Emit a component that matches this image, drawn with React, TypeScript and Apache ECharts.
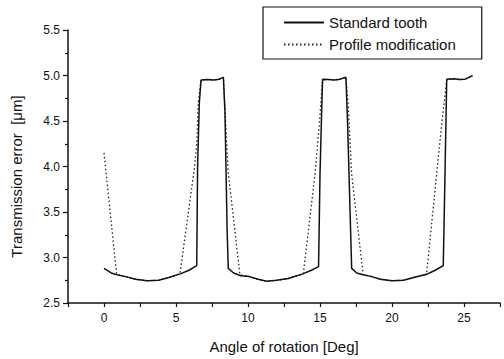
import React, { useEffect, useRef } from "react";
import * as echarts from "echarts";

const standardX = [0, 0.5, 0.9, 1.5, 2.2, 3.0, 3.8, 4.5, 5.3, 5.9, 6.44, 6.5, 6.62, 6.74, 7.2, 7.6, 8.0, 8.29, 8.4, 8.47, 8.55, 8.63, 9.0, 9.5, 10.1, 10.7, 11.3, 12.0, 12.8, 13.8, 14.4, 14.9, 15.0, 15.12, 15.18, 15.6, 16.0, 16.4, 16.8, 16.92, 17.08, 17.2, 17.55, 18.0, 18.6, 19.2, 20.0, 20.8, 21.5, 22.4, 23.0, 23.56, 23.68, 23.8, 24.3, 24.7, 25.07, 25.35, 25.6];
const standardY = [2.88, 2.83, 2.81, 2.79, 2.76, 2.745, 2.75, 2.78, 2.82, 2.86, 2.91, 4.0, 4.7, 4.95, 4.955, 4.95, 4.96, 4.98, 4.6, 4.0, 3.3, 2.88, 2.83, 2.8, 2.79, 2.76, 2.74, 2.75, 2.77, 2.82, 2.86, 2.9, 3.91, 4.64, 4.96, 4.955, 4.95, 4.96, 4.98, 4.46, 3.55, 2.88, 2.83, 2.81, 2.79, 2.76, 2.745, 2.75, 2.78, 2.815, 2.86, 2.91, 3.91, 4.96, 4.965, 4.955, 4.96, 4.98, 5.0];

const profileX = [0, 0.88, 1.5, 2.2, 3.0, 3.8, 4.5, 5.28, 6.25, 6.44, 6.55, 6.74, 7.2, 7.6, 8.0, 8.29, 8.4, 8.52, 8.63, 9.44, 10.1, 10.7, 11.3, 12.0, 12.8, 13.84, 14.65, 14.95, 15.18, 15.6, 16.0, 16.4, 16.8, 16.97, 17.2, 18.0, 18.6, 19.2, 20.0, 20.8, 21.5, 22.4, 22.98, 23.45, 23.8, 24.3, 24.7, 25.07, 25.35, 25.6];
const profileY = [4.15, 2.815, 2.79, 2.76, 2.745, 2.75, 2.78, 2.825, 3.95, 4.24, 4.71, 4.95, 4.955, 4.95, 4.96, 4.98, 4.64, 4.24, 3.93, 2.81, 2.79, 2.76, 2.74, 2.75, 2.77, 2.82, 3.91, 4.46, 4.95, 4.955, 4.95, 4.96, 4.98, 4.64, 3.91, 2.81, 2.79, 2.76, 2.745, 2.75, 2.78, 2.815, 3.73, 4.46, 4.95, 4.965, 4.955, 4.96, 4.98, 5.0];

const xLabels = [0, 5, 10, 15, 20, 25];
const seriesNames = ["Standard tooth", "Profile modification"];
const xTitle = "Angle of rotation [Deg]";
const yTitle = "Transmission error  [μm]";

const FONT = "'Liberation Sans', Arial, Helvetica, sans-serif";

export default function App() {
  const ref = useRef<HTMLDivElement>(null);
  useEffect(() => {
    if (!ref.current) return;
    const chart = echarts.init(ref.current, undefined, { renderer: "svg" });
    const zip = (xs: number[], ys: number[]) => xs.map((x, i) => [x, ys[i]]);
    chart.setOption({
      animation: false,
      backgroundColor: "#fff",
      textStyle: { fontFamily: FONT, color: "#111" },
      grid: { left: 68, right: 4, top: 30, bottom: 52 },
      legend: {
        left: 263,
        top: 7,
        orient: "vertical",
        padding: [8, 26, 7, 20],
        itemGap: 7,
        itemWidth: 40,
        itemHeight: 14,
        itemTextGap: 5,
        borderColor: "#111",
        borderWidth: 1.2,
        itemStyle: { color: "transparent", borderWidth: 0, opacity: 0 },
        textStyle: { fontFamily: FONT, fontSize: 15, color: "#111" },
        data: seriesNames,
      },
      xAxis: {
        type: "value",
        min: -2.5,
        max: 27.5,
        interval: 2.5,
        name: xTitle,
        nameLocation: "middle",
        nameGap: 36,
        nameTextStyle: { fontFamily: FONT, fontSize: 15, color: "#111" },
        axisLine: { show: true, onZero: false, lineStyle: { color: "#111", width: 1.5 } },
        axisTick: { show: true, inside: false, length: 4, lineStyle: { color: "#111", width: 1.2 } },
        axisLabel: {
          fontFamily: FONT,
          fontSize: 12,
          color: "#111",
          margin: 9,
          formatter: (v: number) => (xLabels.includes(v) ? String(v) : ""),
        },
        splitLine: { show: false },
      },
      yAxis: {
        type: "value",
        min: 2.5,
        max: 5.5,
        interval: 0.5,
        name: yTitle,
        nameLocation: "middle",
        nameGap: 44,
        nameTextStyle: { fontFamily: FONT, fontSize: 15, color: "#111", padding: [0, 20, 0, 0] },
        axisLine: { show: true, onZero: false, lineStyle: { color: "#111", width: 1.5 } },
        axisTick: { show: true, inside: false, length: 5, lineStyle: { color: "#111", width: 1.2 } },
        minorTick: { show: true, splitNumber: 2, length: 3, lineStyle: { color: "#111", width: 1.2 } },
        axisLabel: {
          fontFamily: FONT,
          fontSize: 12,
          color: "#111",
          margin: 8,
          formatter: (v: number) => v.toFixed(1),
        },
        splitLine: { show: false },
      },
      series: [
        {
          name: seriesNames[1],
          type: "line",
          data: zip(profileX, profileY),
          symbol: "none",
          z: 2,
          lineStyle: { color: "#222", width: 1.3, type: [1.5, 2.5] },
          itemStyle: { color: "#222" },
        },
        {
          name: seriesNames[0],
          type: "line",
          data: zip(standardX, standardY),
          symbol: "none",
          z: 3,
          lineStyle: { color: "#111", width: 1.5, type: "solid" },
          itemStyle: { color: "#111" },
        },
      ],
    });
    return () => chart.dispose();
  }, []);
  return <div ref={ref} style={{ width: 504, height: 359, position: "absolute", left: 0, top: 0 }} />;
}
